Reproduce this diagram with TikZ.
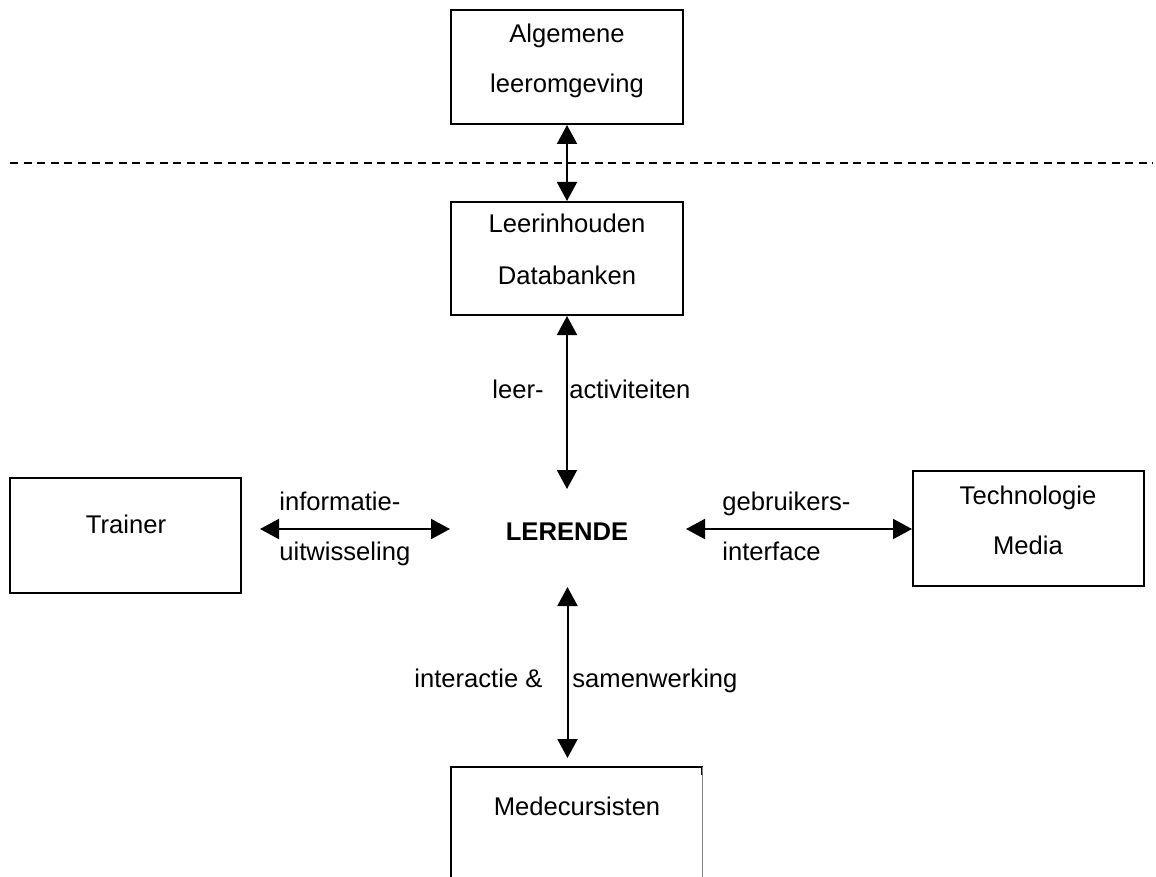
\documentclass[tikz,border=0pt]{standalone}
\usepackage{fontspec}
\setmainfont{Liberation Sans}
\usetikzlibrary{arrows.meta}
\tikzset{
  px/.style={x=0.5pt,y=-0.5pt},
  boxn/.style={draw,line width=1pt,inner sep=0pt},
  txt/.style={inner sep=0pt,anchor=base,font=\fontsize{12.8}{15}\selectfont},
  lbl/.style={inner sep=0pt,anchor=base west,font=\fontsize{12.8}{15}\selectfont},
  dbl/.style={line width=1pt,{Triangle[length=9.5pt,width=10pt]}-{Triangle[length=9.5pt,width=10pt]}},
}
\begin{document}
\begin{tikzpicture}[px]
\useasboundingbox (0,0) rectangle (1156,877);
% boxes
\node[boxn,minimum width=116pt,minimum height=57pt] (alg) at (567,67) {};
\node[boxn,minimum width=116pt,minimum height=56.5pt] (lee) at (567,258.5) {};
\node[boxn,minimum width=115.5pt,minimum height=57.5pt] (tra) at (125.5,535.5) {};
\node[boxn,minimum width=115.5pt,minimum height=57.5pt] (tec) at (1028.5,528.5) {};
\node[inner sep=0pt,minimum width=125.5pt,minimum height=60pt] (med) at (576.5,827) {};
\draw[line width=1pt] (med.north west |- 0,890) -- (med.north west) -- (med.north east) -- ++(0,8);
\draw[line width=0.4pt,gray] (med.north east) -- (med.north east |- 0,877);
% texts
\node[txt] (t1) at (567,43) {Algemene};
\node[txt] (t2) at (567,93) {leeromgeving};
\node[txt] (t3) at (567,233) {Leerinhouden};
\node[txt] (t4) at (567,285) {Databanken};
\node[txt] (t5) at (126,533) {Trainer};
\node[txt] (t6) at (1028,504) {Technologie};
\node[txt] (t7) at (1028,554) {Media};
\node[txt] (t8) at (577,815) {Medecursisten};
\node[txt,font=\fontsize{12.8}{15}\selectfont\bfseries] (ler) at (567,540) {LERENDE};
% labels
\node[lbl] (l1) at (279,510) {informatie-};
\node[lbl] (l2) at (279,560) {uitwisseling};
\node[lbl] (l3) at (722,510) {gebruikers-};
\node[lbl] (l4) at (722,560) {interface};
\node[lbl] (l5) at (492,398) {leer-};
\node[lbl] (l6) at (569,398) {activiteiten};
\node[lbl] (l7) at (414,687) {interactie \&};
\node[lbl] (l8) at (572,687) {samenwerking};
% dashed separator
\coordinate (dl) at (10,163);
\coordinate (dr) at (1153,163);
\draw[line width=1pt,dash pattern=on 4pt off 2.8pt] (dl) -- (dr);
% free arrow ends
\coordinate (ltp) at (567,489);
\coordinate (lbt) at (567.5,587);
\coordinate (llt) at (450,529);
\coordinate (lrt) at (686,529);
\coordinate (trr) at (260,529);
\coordinate (mdt) at (567.5,758);
% connectors
\draw[dbl] (alg.south) -- (lee.north);
\draw[dbl] (lee.south) -- (ltp);
\draw[dbl] (trr) -- (llt);
\draw[dbl] (lrt) -- (tec.west |- lrt);
\draw[dbl] (lbt) -- (mdt);
\end{tikzpicture}
\end{document}
